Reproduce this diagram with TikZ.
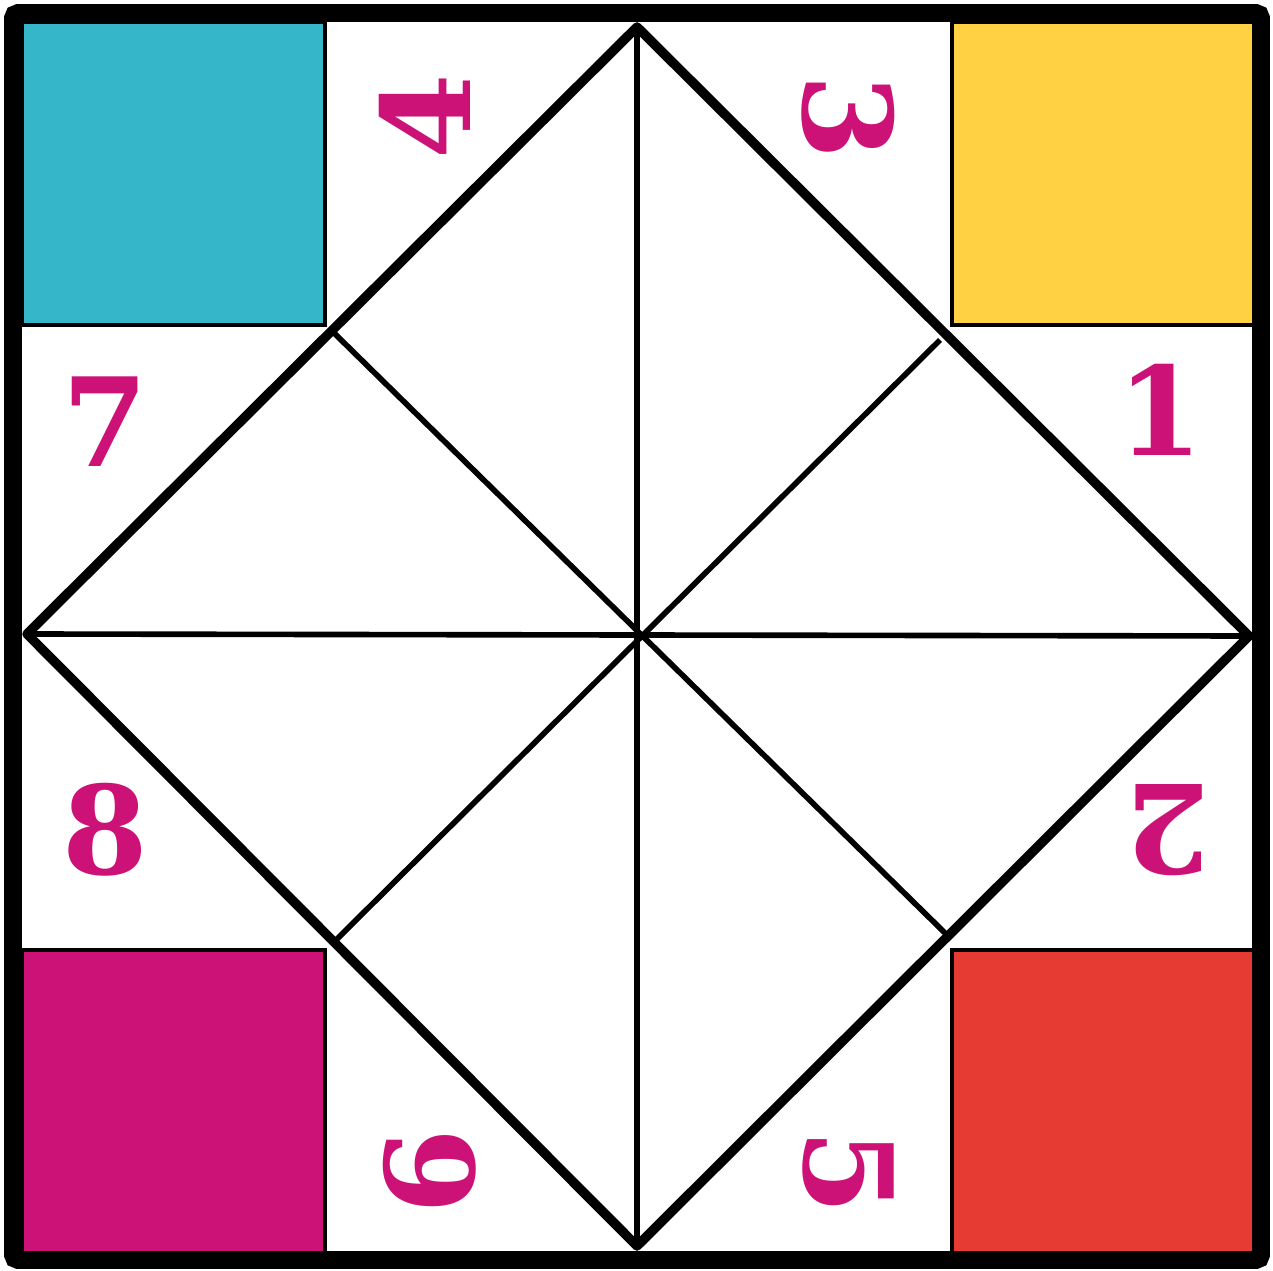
\documentclass[tikz,border=0pt]{standalone}
\usepackage{fontspec}
\setmainfont{DejaVu Serif}
\definecolor{flapcyan}{HTML}{35B6C9}
\definecolor{flapyellow}{HTML}{FFD143}
\definecolor{flapmagenta}{HTML}{CC1177}
\definecolor{flapred}{HTML}{E63B33}
\tikzset{
  num/.style={text=flapmagenta,font=\fontsize{35}{35}\selectfont\bfseries,inner sep=0pt},
  corner/.style={draw=black,line width=0.9pt},
  fold/.style={line width=2.7pt,line cap=round,line join=round},
  crease/.style={line width=1.6pt}
}

\begin{document}
\begin{tikzpicture}[x=0.1mm,y=-0.1mm]
% pixel grid of the reference: x right, y down, 1273 x 1270
\useasboundingbox (0,0) rectangle (1273,1270);
\fill[white] (0,0) rectangle (1273,1270);
% colour squares in the corners
\filldraw[corner,fill=flapcyan] (22,22) rectangle (325,325);
\filldraw[corner,fill=flapyellow] (952,22) rectangle (1255,325);
\filldraw[corner,fill=flapmagenta] (22,950) rectangle (325,1255);
\filldraw[corner,fill=flapred] (952,950) rectangle (1255,1255);
% diamond corners, edge midpoints and centre
\coordinate (top) at (637,27);
\coordinate (left) at (27,634);
\coordinate (right) at (1249,636);
\coordinate (bottom) at (637,1246);
\coordinate (mid) at (637,634);
\coordinate (tl) at (333,332);
\coordinate (tr) at (940,340);
\coordinate (bl) at (336,940);
\coordinate (br) at (946,934);
\draw[crease] (top) -- (bottom);
\draw[crease] (left) -- (right);
\draw[crease] (tl) -- (br);
\draw[crease] (tr) -- (bl);
\draw[fold] (top) -- (right) -- (bottom) -- (left) -- cycle;
% numbers on the flaps
\foreach \x/\y/\r/\t in {425/117/90/4, 848/117/-90/3, 1160/410/0/1, 105/422/0/7,
  105/830/0/8, 1168/830/180/2, 430/1172/90/6, 848/1172/-90/5}
  {\node[num,rotate=\r] (n\t) at (\x,\y) {\t};}
% outer frame
\draw[line width=5.1pt,rounded corners=1.5pt] (13,13) rectangle (1261,1260);
\end{tikzpicture}
\end{document}
